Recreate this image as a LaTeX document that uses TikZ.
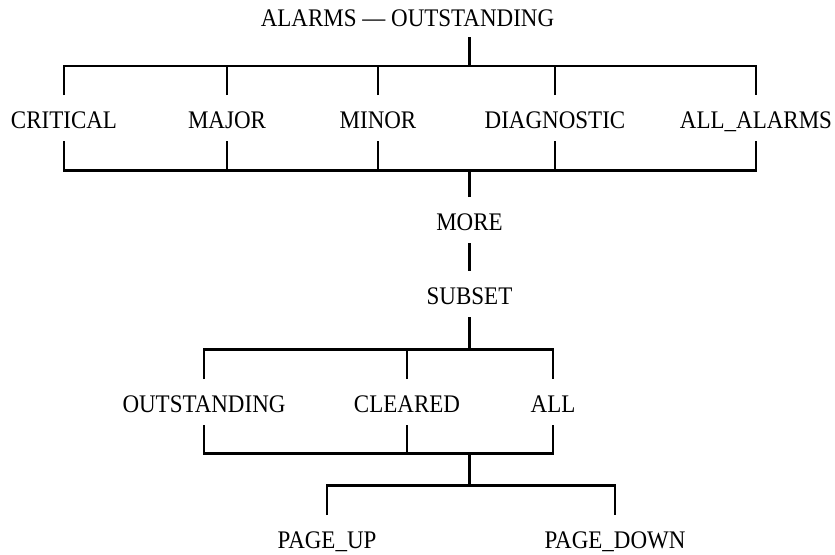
\documentclass[tikz,border=0pt]{standalone}
\usepackage{graphicx}
\usepackage{fontspec}
\setmainfont{Liberation Serif}
\newcommand\tallt[1]{\scalebox{1}[1.1]{#1}}
\tikzset{
  lbl/.style={anchor=base, inner sep=0pt, outer xsep=0pt, outer ysep=13pt, text height=20pt, text depth=0pt,
    font=\fontsize{23}{28}\selectfont},
  ln/.style={line width=2.6pt, line join=miter, line cap=butt}
}
\begin{document}
\begin{tikzpicture}[x=1pt,y=-1pt]
\useasboundingbox (0,0) rectangle (835,554);
% helper coordinates
\coordinate (spine) at (469.5,0);
\coordinate (bar1) at (0,66);
\coordinate (bar2) at (0,170.5);
\coordinate (bar3) at (0,349.5);
\coordinate (bar4) at (0,453.5);
\coordinate (bar5) at (0,485.5);
% nodes
\node[lbl, outer ysep=10pt] (title) at (407.5,27) {\tallt{ALARMS — OUTSTANDING}};
\node[lbl] (crit) at (64,128) {\tallt{CRITICAL}};
\node[lbl] (major) at (227,128) {\tallt{MAJOR}};
\node[lbl] (minor) at (378,128) {\tallt{MINOR}};
\node[lbl] (diag) at (555,128) {\tallt{DIAGNOSTIC}};
\node[lbl] (allal) at (756,128) {\tallt{ALL\_ALARMS}};
\node[lbl] (more) at (469.5,230) {\tallt{MORE}};
\node[lbl] (subset) at (469.5,304) {\tallt{SUBSET}};
\node[lbl] (outs) at (204,412) {\tallt{OUTSTANDING}};
\node[lbl] (clr) at (407,412) {\tallt{CLEARED}};
\node[lbl] (all) at (553,412) {\tallt{ALL}};
\node[lbl] (pgup) at (327,548) {\tallt{PAGE\_UP}};
\node[lbl] (pgdn) at (615,548) {\tallt{PAGE\_DOWN}};
% connectors
\draw[ln] (title.south -| spine) -- (spine |- bar1);
\draw[ln] (crit) -- (crit |- bar1) -- (allal |- bar1) -- (allal);
\draw[ln] (major) -- (major |- bar1);
\draw[ln] (minor) -- (minor |- bar1);
\draw[ln] (diag) -- (diag |- bar1);
\draw[ln] (crit) -- (crit |- bar2) -- (allal |- bar2) -- (allal);
\draw[ln] (major) -- (major |- bar2);
\draw[ln] (minor) -- (minor |- bar2);
\draw[ln] (diag) -- (diag |- bar2);
\draw[ln] (more) -- (more |- bar2);
\draw[ln] (more) -- (subset);
\draw[ln] (subset) -- (subset |- bar3);
\draw[ln] (outs) -- (outs |- bar3) -- (all |- bar3) -- (all);
\draw[ln] (clr) -- (clr |- bar3);
\draw[ln] (outs) -- (outs |- bar4) -- (all |- bar4) -- (all);
\draw[ln] (clr) -- (clr |- bar4);
\draw[ln] (spine |- bar4) -- (spine |- bar5);
\draw[ln] (pgup) -- (pgup |- bar5) -- (pgdn |- bar5) -- (pgdn);
\end{tikzpicture}
\end{document}
